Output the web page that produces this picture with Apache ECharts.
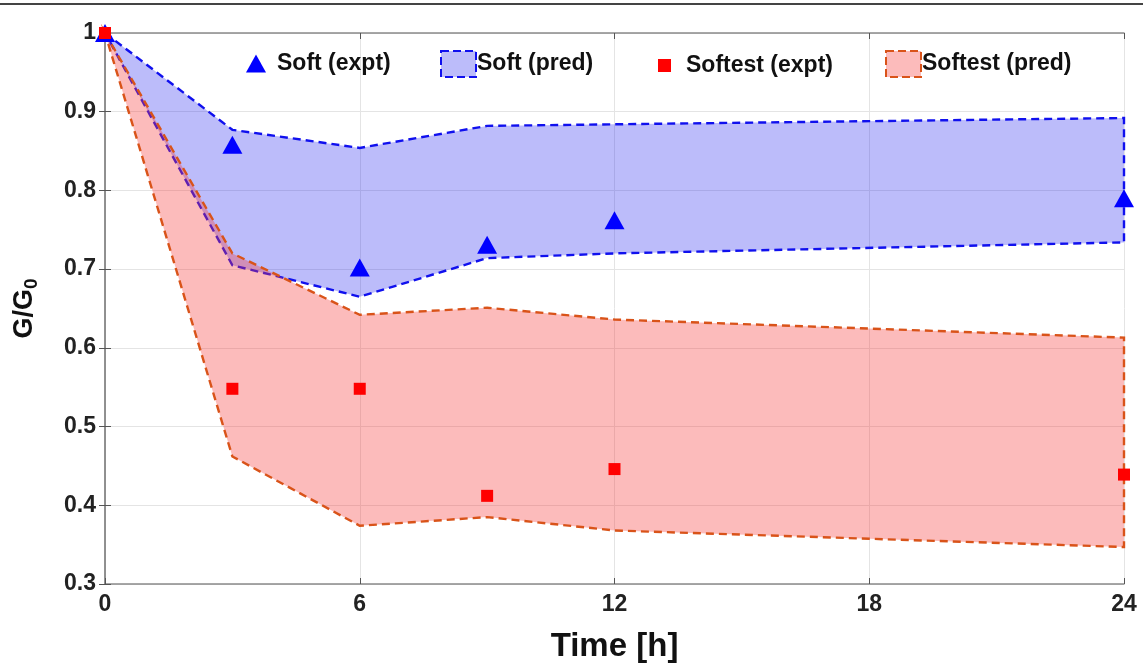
<!DOCTYPE html>
<html>
<head>
<meta charset="utf-8">
<script src="https://cdn.jsdelivr.net/npm/echarts@6/dist/echarts.min.js"></script>
<style>html,body{margin:0;padding:0;background:#fff}#c{width:1143px;height:668px}</style>
</head>
<body>
<div id="c"></div>
<script>
const hours = [0, 3, 6, 9, 12, 24];
const softExpt = [1.0, 0.858, 0.702, 0.731, 0.762, 0.790];
const softPredUpper = [1.0, 0.877, 0.854, 0.882, 0.884, 0.892];
const softPredLower = [1.0, 0.705, 0.665, 0.714, 0.720, 0.734];
const softestExpt = [1.0, 0.548, 0.548, 0.412, 0.446, 0.439];
const softestPredUpper = [1.0, 0.720, 0.642, 0.651, 0.636, 0.613];
const softestPredLower = [1.0, 0.462, 0.374, 0.385, 0.368, 0.347];
const xTicks = [0, 6, 12, 18, 24];
const yTicks = [0.3, 0.4, 0.5, 0.6, 0.7, 0.8, 0.9, 1.0];

const FONT = '"Liberation Sans", Arial, sans-serif';
const BLUE = '#0000ff', BLUE_FILL = 'rgba(40,40,240,0.31)', BLUE_EDGE = '#1010ee';
const RED = '#ff0000', RED_FILL = 'rgba(245,60,60,0.35)', RED_EDGE = '#d95319';

function band(upper, lower, fill, edge) {
  return function (params, api) {
    const pts = [];
    for (let i = 0; i < hours.length; i++) pts.push(api.coord([hours[i], upper[i]]));
    for (let i = hours.length - 1; i >= 0; i--) pts.push(api.coord([hours[i], lower[i]]));
    return {
      type: 'polygon',
      shape: { points: pts },
      style: { fill: fill, stroke: edge, lineWidth: 2.4, lineDash: [8, 5] }
    };
  };
}

const chart = echarts.init(document.getElementById('c'), null, { renderer: 'canvas' });
const legendText = { fontFamily: FONT, fontWeight: 'bold', fontSize: 23, color: '#111' };
chart.setOption({
  animation: false,
  backgroundColor: '#fff',
  textStyle: { fontFamily: FONT },
  grid: { left: 105, right: 19, top: 33, bottom: 78 },
  graphic: [{ type: 'line', shape: { x1: 0, y1: 4, x2: 1143, y2: 4 }, style: { stroke: '#444', lineWidth: 2 } }],
  legend: [
    { left: 241, top: 47, itemWidth: 20, itemHeight: 18, itemGap: 0, selectedMode: false,
      textStyle: Object.assign({ padding: [0, 0, 0, 6] }, legendText),
      data: [{ name: 'Soft (expt)', icon: 'triangle', itemStyle: { color: BLUE, opacity: 1 } }] },
    { left: 435, top: 45, itemWidth: 35, itemHeight: 26, itemGap: 0, selectedMode: false,
      textStyle: Object.assign({ padding: [0, 0, 0, -4] }, legendText),
      data: [{ name: 'Soft (pred)', icon: 'rect', itemStyle: { color: BLUE_FILL, borderColor: BLUE_EDGE, borderWidth: 2, borderType: 'dashed' } }] },
    { left: 653, top: 49, itemWidth: 13, itemHeight: 13, itemGap: 0, selectedMode: false,
      textStyle: Object.assign({ padding: [0, 0, 0, 10] }, legendText),
      data: [{ name: 'Softest (expt)', icon: 'rect', itemStyle: { color: RED, opacity: 1 } }] },
    { left: 880, top: 45, itemWidth: 35, itemHeight: 26, itemGap: 0, selectedMode: false,
      textStyle: Object.assign({ padding: [0, 0, 0, -4] }, legendText),
      data: [{ name: 'Softest (pred)', icon: 'rect', itemStyle: { color: RED_FILL, borderColor: RED_EDGE, borderWidth: 2, borderType: 'dashed' } }] }
  ],
  xAxis: [{
    type: 'value', min: xTicks[0], max: xTicks[xTicks.length - 1], interval: 6,
    name: 'Time [h]', nameLocation: 'middle', nameGap: 46,
    nameTextStyle: { fontFamily: FONT, fontWeight: 'bold', fontSize: 33, color: '#111' },
    axisLine: { show: true, lineStyle: { color: '#8a8a8a', width: 1.5 } },
    axisTick: { show: true, inside: true, length: 6, lineStyle: { color: '#555' } },
    axisLabel: { fontFamily: FONT, fontWeight: 'bold', fontSize: 23, color: '#222', margin: 9 },
    splitLine: { show: true, lineStyle: { color: '#e4e4e4', width: 1 } }
  }, {
    type: 'value', position: 'top', min: xTicks[0], max: xTicks[xTicks.length - 1], interval: 6,
    axisLine: { show: true, lineStyle: { color: '#8a8a8a', width: 1.5 } },
    axisTick: { show: true, inside: true, length: 6, lineStyle: { color: '#555' } },
    axisLabel: { show: false }, splitLine: { show: false }
  }],
  yAxis: [{
    type: 'value', min: yTicks[0], max: yTicks[yTicks.length - 1], interval: 0.1,
    name: 'G/G{s|0}', nameLocation: 'middle', nameGap: 64, nameRotate: 90,
    nameTextStyle: { fontFamily: FONT, fontWeight: 'bold', fontSize: 27, color: '#111',
      rich: { s: { fontFamily: FONT, fontWeight: 'bold', fontSize: 19, color: '#111', padding: [14, 0, 0, 0] } } },
    axisLine: { show: true, lineStyle: { color: '#8a8a8a', width: 1.5 } },
    axisTick: { show: true, inside: true, length: 6, lineStyle: { color: '#555' } },
    axisLabel: { fontFamily: FONT, fontWeight: 'bold', fontSize: 23, color: '#222', margin: 9,
      formatter: v => String(+v.toFixed(1)) },
    splitLine: { show: true, lineStyle: { color: '#e4e4e4', width: 1 } }
  }, {
    type: 'value', position: 'right', min: yTicks[0], max: yTicks[yTicks.length - 1], interval: 0.1,
    axisLine: { show: true, lineStyle: { color: '#8a8a8a', width: 1.5 } },
    axisTick: { show: true, inside: true, length: 6, lineStyle: { color: '#555' } },
    axisLabel: { show: false }, splitLine: { show: false }
  }],
  series: [
    { name: 'Soft (pred)', type: 'custom', renderItem: band(softPredUpper, softPredLower, BLUE_FILL, BLUE_EDGE),
      data: [[0, 1]], encode: { x: 0, y: 1 }, z: 2, silent: true, itemStyle: { color: BLUE_FILL } },
    { name: 'Softest (pred)', type: 'custom', renderItem: band(softestPredUpper, softestPredLower, RED_FILL, RED_EDGE),
      data: [[0, 1]], encode: { x: 0, y: 1 }, z: 3, silent: true, itemStyle: { color: RED_FILL } },
    { name: 'Soft (expt)', type: 'scatter', symbol: 'triangle', symbolSize: [20, 18], clip: false, z: 5,
      itemStyle: { color: BLUE, opacity: 1 }, data: hours.map((h, i) => [h, softExpt[i]]) },
    { name: 'Softest (expt)', type: 'scatter', symbol: 'rect', symbolSize: 12, clip: false, z: 6,
      itemStyle: { color: RED, opacity: 1 }, data: hours.map((h, i) => [h, softestExpt[i]]) }
  ]
});
</script>
</body>
</html>
